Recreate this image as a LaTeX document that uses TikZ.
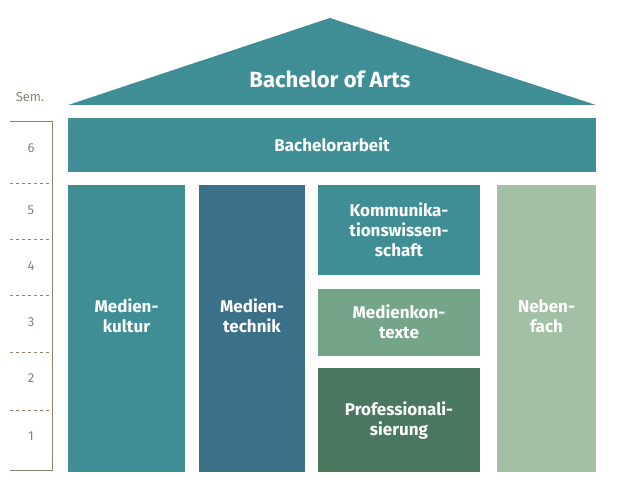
\documentclass[tikz,border=0pt]{standalone}
\usepackage{fontspec}
\setmainfont{Fira Sans}
\begin{document}
\begin{tikzpicture}[x=1pt,y=-1pt,
  blk/.style={inner sep=0pt,text=white,align=center,font=\fontsize{17}{20}\selectfont\bfseries},
  sc/.style={draw=gray!70!brown,line width=1pt},
  scd/.style={sc,dashed,line width=0.8pt},
  num/.style={text=gray!80!brown,font=\fontsize{13}{15}\selectfont}]
\useasboundingbox (0,0) rectangle (630,500);
\definecolor{teal1}{HTML}{3F8E96}
\definecolor{blue1}{HTML}{3A7088}
\definecolor{green1}{HTML}{75A588}
\definecolor{dgreen}{HTML}{4A7760}
\definecolor{pale}{HTML}{A3C0A5}
\fill[teal1] (330,18) -- (596,105) -- (68,105) -- cycle;
\node[blk,font=\fontsize{22}{26}\selectfont\bfseries] (title) at (330,79) {Bachelor of Arts};
\fill[teal1] (68,118) rectangle (596,172);
\node[blk] (ba) at (332,145) {Bachelorarbeit};
\fill[teal1] (68,185) rectangle (185,472);
\node[blk] (mk) at (126.5,316) {Medien-\\kultur};
\fill[blue1] (199,185) rectangle (305,472);
\node[blk] (mt) at (252,316) {Medien-\\technik};
\fill[teal1] (318,185) rectangle (480,275);
\node[blk] (kw) at (399,230) {Kommunika-\\tionswissen-\\schaft};
\fill[green1] (318,289) rectangle (480,356);
\node[blk] (mko) at (399,322) {Medienkon-\\texte};
\fill[dgreen] (318,368) rectangle (480,472);
\node[blk] (pr) at (399,420) {Professionali-\\sierung};
\fill[pale] (497,185) rectangle (596,472);
\node[blk] (nf) at (546.5,316) {Neben-\\fach};
\node[num] (sem) at (30,97) {Sem.};
\draw[sc] (10,122) -- (52,122) -- (52,470) -- (10,470);
\foreach \y in {183,239,295,352,410} \draw[scd] (10,\y) -- (52,\y);
\foreach \n/\y in {6/148,5/210,4/266,3/322,2/378,1/436}
  \node[num] (s\n) at (31,\y) {\n};
\end{tikzpicture}
\end{document}
